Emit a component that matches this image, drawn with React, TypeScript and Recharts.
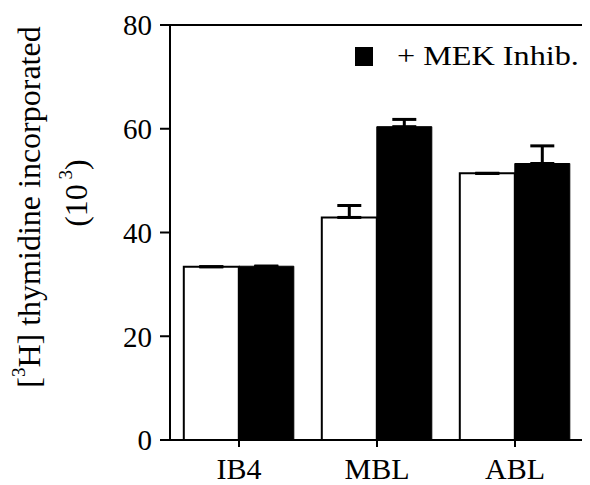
import React from 'react';
import { BarChart, Bar, XAxis, YAxis, ErrorBar, Legend, ReferenceArea } from 'recharts';

const categories = ['IB4', 'MBL', 'ABL'];
const controlValues = [33.4, 42.9, 51.4];
const controlErrors = [0, 2.3, 0];
const mekValues = [33.5, 60.4, 53.3];
const mekErrors = [0, 1.4, 3.4];
const yTicks = [0, 20, 40, 60, 80];

const data = categories.map((name, i) => ({
  name,
  control: controlValues[i],
  controlErr: [0, controlErrors[i]],
  mek: mekValues[i],
  mekErr: [0, mekErrors[i]],
}));

const FONT = '"Liberation Serif", "Times New Roman", serif';

const LegendBox = () => (
  <div style={{ display: 'flex', alignItems: 'center', fontFamily: FONT, fontSize: 28, color: '#000', whiteSpace: 'nowrap' }}>
    <span style={{ display: 'inline-block', width: 18, height: 19, background: '#000', marginRight: 24 }} />
    <span style={{ display: 'inline-block', transform: 'scaleX(1.15)', transformOrigin: 'left center' }}>+ MEK Inhib.</span>
  </div>
);

const YLabel = () => (
  <g fontFamily={FONT} fill="#000">
    <text x={29} y={207} transform="rotate(-90 29 207)" textAnchor="middle" dominantBaseline="central" fontSize={32}>
      [<tspan fontSize={19} dy={-11}>3</tspan>
      <tspan dy={11}>H] thymidine incorporated</tspan>
    </text>
    <text x={76} y={193} transform="rotate(-90 76 193)" textAnchor="middle" dominantBaseline="central" fontSize={32}>
      (10<tspan fontSize={19} dy={-11}> 3</tspan>
      <tspan dy={11}>)</tspan>
    </text>
  </g>
);

export default function App() {
  return (
    <BarChart
      width={590}
      height={485}
      data={data}
      margin={{ top: 25, right: 6, left: 0, bottom: 0 }}
      barCategoryGap="10%"
      barGap={0}
      style={{ marginLeft: -8, marginTop: -8 }}
    >
      <XAxis
        dataKey="name"
        axisLine={{ stroke: '#000', strokeWidth: 2 }}
        tickLine={{ stroke: '#000', strokeWidth: 2 }}
        tickSize={7}
        tickMargin={11}
        height={45}
        tick={{ fill: '#000', fontSize: 30, fontFamily: FONT }}
      />
      <YAxis
        domain={[0, 80]}
        ticks={yTicks}
        width={170}
        axisLine={{ stroke: '#000', strokeWidth: 2 }}
        tickLine={{ stroke: '#000', strokeWidth: 2 }}
        tickSize={10}
        tickMargin={8}
        tick={{ fill: '#000', fontSize: 29, fontFamily: FONT }}
        label={{ content: () => <YLabel /> }}
      />
      <ReferenceArea y1={0} y2={80} fill="none" stroke="#000" strokeWidth={2} />
      <Legend
        layout="horizontal"
        verticalAlign="middle"
        align="center"
        content={() => <LegendBox />}
        wrapperStyle={{ position: 'absolute', top: 40, left: 355, width: 235 }}
      />
      <Bar dataKey="control" fill="#fff" stroke="#000" strokeWidth={2} isAnimationActive={false} legendType="none">
        <ErrorBar dataKey="controlErr" width={12} stroke="#000" strokeWidth={3} />
      </Bar>
      <Bar dataKey="mek" fill="#000" stroke="#000" strokeWidth={1} isAnimationActive={false}>
        <ErrorBar dataKey="mekErr" width={12} stroke="#000" strokeWidth={3} />
      </Bar>
    </BarChart>
  );
}
